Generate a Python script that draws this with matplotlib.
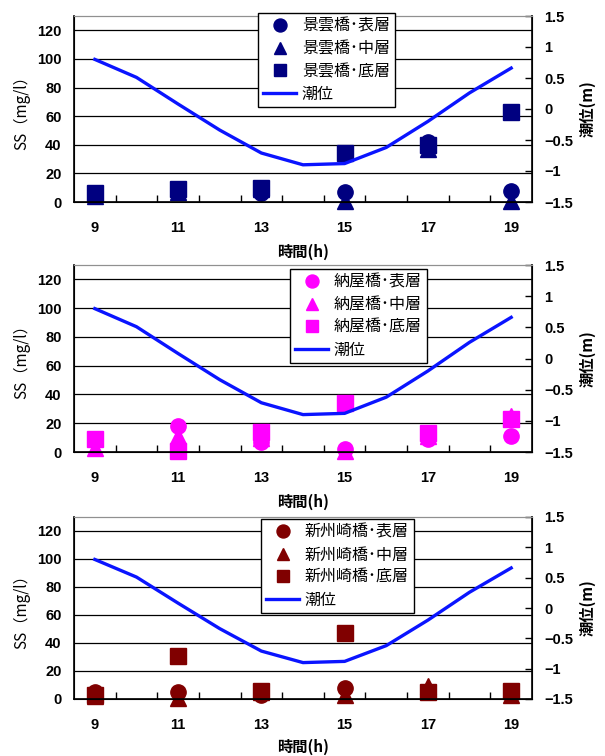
import matplotlib.pyplot as plt
from matplotlib.ticker import FixedLocator

plt.rcParams['font.family'] = ['Noto Sans CJK JP', 'DejaVu Sans']

# hourly tide level (m)
hours = [9, 10, 11, 12, 13, 14, 15, 16, 17, 18, 19]
tide = [0.80, 0.51, 0.08, -0.34, -0.71, -0.90, -0.88, -0.62, -0.20, 0.26, 0.66]

# SS sampling times
times = [9, 11, 13, 15, 17, 19]

sites = ['景雲橋', '納屋橋', '新州崎橋']
colors = ['#000080', '#ff00ff', '#800000']

# SS (mg/l): surface, middle, bottom layers per site
ss_surface = [
    [5, 9, 6, 7, 42, 8],
    [8, 18, 7, 2, 9, 11],
    [5, 5, 3, 8, 5, 5],
]
ss_middle = [
    [4, 7, 9, 1, 37, 1],
    [3, 11, 10, 1, 11, 25],
    [2, 1, 5, 3, 9, 3],
]
ss_bottom = [
    [6, 9, 10, 34, 40, 63],
    [9, 1, 14, 34, 13, 23],
    [3, 31, 6, 47, 5, 6],
]

W, H = 605, 756
axes_px = [(16, 202), (265, 452), (517, 699)]
legend_px = [(258, 13), (290, 269), (261, 519)]
left_px, right_px = 74, 532

fig = plt.figure(figsize=(W / 100, H / 100), dpi=100)
tick_font = dict(family='Liberation Sans', weight='bold', size=10.5)

for i, site in enumerate(sites):
    top, bot = axes_px[i]
    hgt = bot - top
    wid = right_px - left_px
    ax = fig.add_axes([left_px / W, 1 - bot / H, wid / W, hgt / H])
    c = colors[i]
    h1, = ax.plot(times, ss_surface[i], 'o', color=c, ms=11, ls='none',
                  label=f'{site}･表層', clip_on=False)
    h2, = ax.plot(times, ss_middle[i], '^', color=c, ms=11, ls='none',
                  label=f'{site}･中層', clip_on=False)
    h3, = ax.plot(times, ss_bottom[i], 's', color=c, ms=11, ls='none',
                  label=f'{site}･底層', clip_on=False)
    ax.set_xlim(8.5, 19.5)
    ax.set_ylim(0, 130)
    ax.set_yticks(range(0, 121, 20))
    ax.yaxis.grid(True, color='black', lw=0.9)
    ax.set_axisbelow(True)
    ax.tick_params(axis='y', length=0, pad=9)
    ax.set_xticks(times)
    ax.xaxis.set_minor_locator(FixedLocator([x + 0.5 for x in range(9, 19)]))
    ax.tick_params(axis='x', which='major', length=0, pad=14)
    ax.tick_params(axis='x', which='minor', direction='in', length=5, width=1)
    for lab in ax.get_xticklabels() + ax.get_yticklabels():
        lab.set_fontproperties(tick_font)
    ax.spines['top'].set_color('#909090')
    ax.spines['left'].set_linewidth(1.2)
    ax.spines['bottom'].set_linewidth(1.2)
    ax.set_ylabel('SS（mg/l）', fontsize=11)
    ax.yaxis.set_label_coords((30 - left_px) / wid, 0.5)
    ax.set_xlabel('時間(h)', fontsize=11, weight='bold')
    ax.xaxis.set_label_coords(0.5, -(40 if i == 2 else 42) / hgt)

    ax2 = ax.twinx()
    h4, = ax2.plot(hours, tide, color='#0a14ff', lw=2.4, label='潮位')
    ax2.set_ylim(-1.5, 1.5)
    ax2.set_yticks([-1.5, -1, -0.5, 0, 0.5, 1, 1.5])
    ax2.set_yticklabels(['−1.5', '−1', '−0.5', '0', '0.5', '1', '1.5'])
    ax2.tick_params(axis='y', direction='in', length=5, width=1, pad=9)
    for lab in ax2.get_yticklabels():
        lab.set_fontproperties(tick_font)
    ax2.spines['right'].set_linewidth(1.2)
    ax2.spines['top'].set_color('#909090')
    ax2.set_ylabel('潮位(m)', fontsize=11, weight='bold')
    ax2.yaxis.set_label_coords((579 - left_px) / wid, 0.5)

    lx, ly = legend_px[i]
    leg = fig.legend([h1, h2, h3, h4], [h.get_label() for h in (h1, h2, h3, h4)],
                     loc='upper left', bbox_to_anchor=(lx / W, 1 - ly / H),
                     fontsize=11.5, frameon=True, fancybox=False, framealpha=1,
                     edgecolor='black', borderpad=0.3, labelspacing=0.35,
                     handlelength=2.1, handletextpad=0.35, borderaxespad=0,
                     markerscale=0.85)
    leg.get_frame().set_linewidth(1.0)

fig.savefig('out.png', dpi=100)
